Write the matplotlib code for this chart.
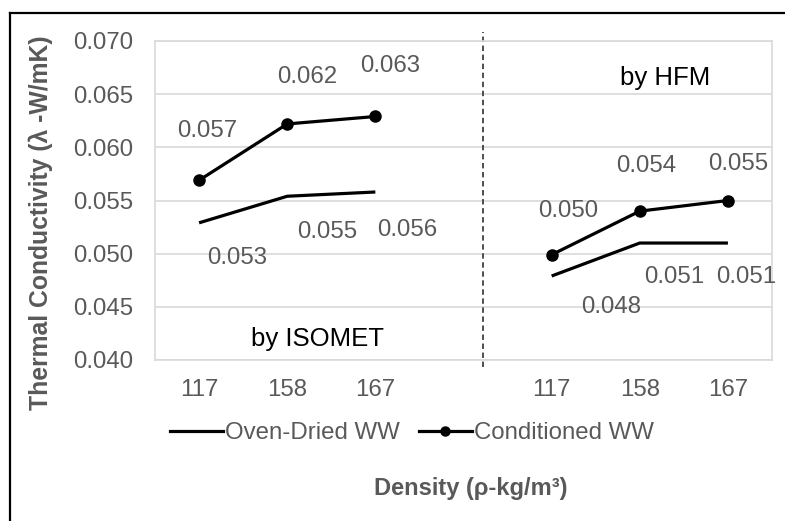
import matplotlib
matplotlib.use("Agg")
import matplotlib.pyplot as plt
from matplotlib.lines import Line2D
import matplotlib.transforms as mtransforms

plt.rcParams["font.family"] = ["Liberation Sans", "DejaVu Sans"]

# data
densities = ["117", "158", "167"]
isomet_x = [0, 1, 2]
hfm_x = [4, 5, 6]
conditioned = [0.0569, 0.0622, 0.0629, 0.0499, 0.0540, 0.0550]
oven_dried = [0.0529, 0.0554, 0.0558, 0.0479, 0.0510, 0.0510]

# label offsets (pixels) copied from the reference layout
cond_off = [(8, 49), (20, 47), (15, 50), (17, 44), (6, 45), (10, 37)]
oven_off = [(38, -35), (40, -36), (32, -38), (59, -31), (34, -34), (18, -34)]

gray = "#595959"
grid = "#d9d9d9"

fig = plt.figure(figsize=(7.85, 5.21), dpi=100)
ax = fig.add_axes([155 / 785, 1 - 360 / 521, 617 / 785, 319 / 521])

xs = isomet_x + hfm_x
for seg in (slice(0, 3), slice(3, 6)):
    ax.plot(xs[seg], oven_dried[seg], color="black", lw=2.3,
            solid_capstyle="butt", zorder=3)
    ax.plot(xs[seg], conditioned[seg], color="black", lw=2.3, marker="o",
            ms=8, zorder=3)

for x, v, (dx, dy) in zip(xs, conditioned, cond_off):
    ax.annotate(f"{v:.3f}", (x, v), xytext=(dx, dy), textcoords="offset pixels",
                ha="center", va="center", fontsize=17.3, color=gray)
for x, v, (dx, dy) in zip(xs, oven_dried, oven_off):
    ax.annotate(f"{v:.3f}", (x, v), xytext=(dx, dy), textcoords="offset pixels",
                ha="center", va="center", fontsize=17.3, color=gray)

ax.text(1.338, 0.04198, "by ISOMET", ha="center", va="center", fontsize=18.5,
        color="black")
ax.text(5.286, 0.06652, "by HFM", ha="center", va="center", fontsize=18.5,
        color="black")

# divider between methods
trans = mtransforms.blended_transform_factory(ax.transData, ax.transAxes)
ax.plot([3.22, 3.22], [-0.022, 1.028], transform=trans, color="#404040",
        lw=1.3, ls=(0, (3, 2)), clip_on=False, zorder=2)

ax.set_xlim(-0.5, 6.5)
ax.set_ylim(0.040, 0.070)
ax.set_yticks([0.040, 0.045, 0.050, 0.055, 0.060, 0.065, 0.070])
ax.set_yticklabels([f"{t:.3f}" for t in ax.get_yticks()])
ax.set_xticks(xs)
ax.set_xticklabels(densities * 2)
ax.tick_params(axis="both", length=0, labelsize=17.3, labelcolor=gray)
ax.tick_params(axis="y", pad=16)
ax.tick_params(axis="x", pad=14)
ax.grid(axis="y", color=grid, lw=1.2)
ax.set_axisbelow(True)
for sp in ax.spines.values():
    sp.set_color(grid)
    sp.set_linewidth(1.2)

handles = [Line2D([], [], color="black", lw=2.3),
           Line2D([], [], color="black", lw=2.3, marker="o", ms=6.5)]
fig.legend(handles, ["Oven-Dried WW", "Conditioned WW"], loc="center",
           bbox_to_anchor=(412 / 785, 1 - 433 / 521), ncol=2, frameon=False,
           fontsize=17.3, labelcolor=gray, handlelength=2.2, handletextpad=0.1,
           columnspacing=0.8, borderaxespad=0, borderpad=0)

fig.text(471 / 785, 1 - 488 / 521, "Density (ρ-kg/m³)",
         ha="center", va="center", fontsize=17, fontweight="bold", color=gray)
fig.text(41 / 785, 1 - 223 / 521, "Thermal Conductivity (λ -W/mK)",
         ha="center", va="center", rotation=90, fontsize=17.8,
         fontweight="bold", color=gray)

# outer frame (cropped at right and bottom in the reference)
fig.add_artist(Line2D([10 / 785, 1], [1 - 13 / 521, 1 - 13 / 521],
                      transform=fig.transFigure, color="black", lw=1.6))
fig.add_artist(Line2D([10 / 785, 10 / 785], [0, 1 - 13 / 521],
                      transform=fig.transFigure, color="black", lw=1.6))

fig.savefig("out.png", dpi=100)
